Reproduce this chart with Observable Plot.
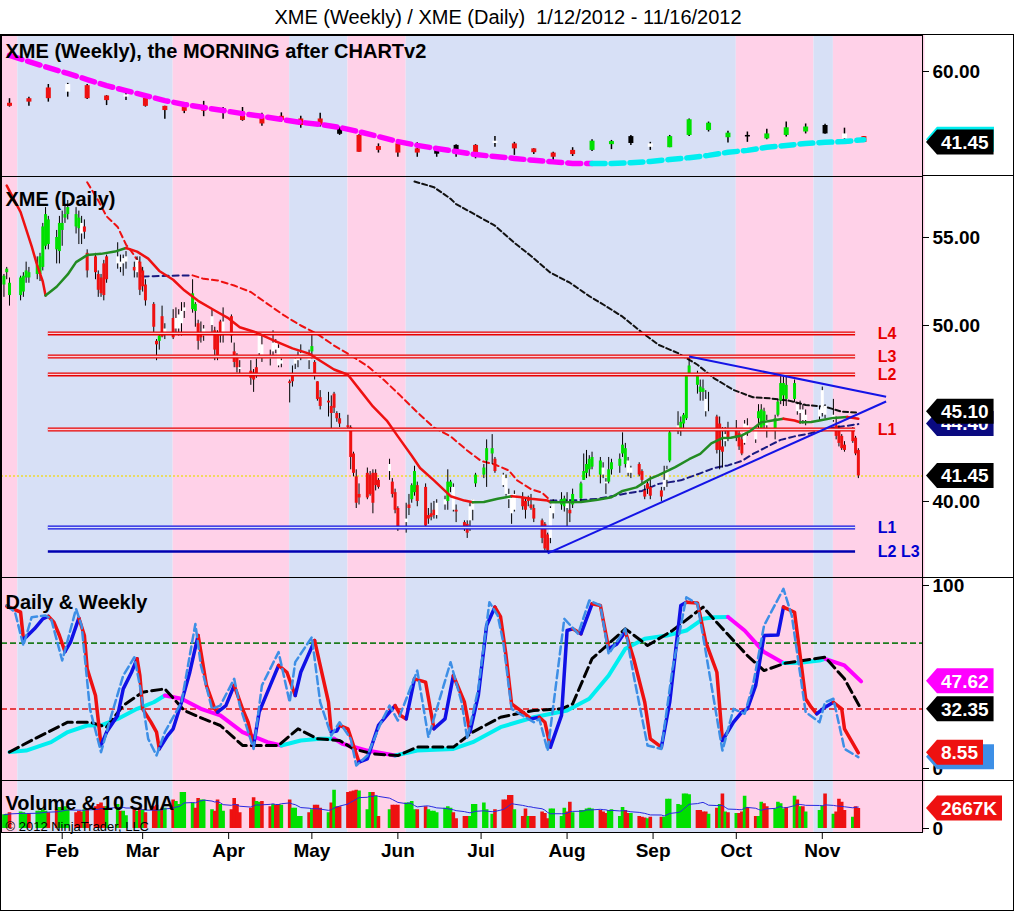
<!DOCTYPE html>
<html>
<head>
<meta charset="utf-8">
<script src="https://cdn.jsdelivr.net/npm/d3@7"></script>
<script src="https://cdn.jsdelivr.net/npm/@observablehq/plot@0.6"></script>
<style>
html,body{margin:0;padding:0;background:#fff;}
#root{position:relative;width:1016px;height:912px;overflow:hidden;font-family:'Liberation Sans',Arial,Helvetica,sans-serif;}
#title{position:absolute;left:0;top:5px;width:1016px;text-align:center;font-size:20px;white-space:pre;line-height:24px;color:#000;}
.ln{position:absolute;background:#000;}
#root svg{position:absolute;left:0;}
</style>
</head>
<body>
<div id="root"><div id="title">XME (Weekly) / XME (Daily)  1/12/2012 - 11/16/2012</div></div>
<script>
// ---------------- DATA ----------------
const holidays = ["01-16","02-20","04-06","05-28","07-04","09-03","10-29","10-30"];
// daily [open, high, low, close]
const jan = [[52.3,52.9,51.6,52.8],[53.0,53.3,52.6,53.2],[51.7,52.7,51.1,52.4],[51.7,52.8,51.4,52.7],[51.9,53.0,51.6,52.8],[52.7,53.6,52.4,53.1],[52.7,53.3,52.4,53.0],[52.9,53.9,52.6,53.4],[52.9,54.1,52.5,53.9],[53.3,55.8,53.1,55.6],[54.5,56.7,54.3,56.3],[54.6,56.2,54.3,56.0],[54.3,55.4,53.5,55.0],[54.2,56.2,53.5,55.8]];
const feb = [[55.4,56.5,54.5,55.8],[56.1,56.8,55.8,56.3],[56.3,57.1,56.0,56.7],[55.6,56.7,55.2,56.3],[55.5,56.5,54.6,56.1],[55.8,56.2,54.6,55.2],[55.6,56.0,54.9,55.3],[54.1,54.3,52.7,53.1],[53.9,54.1,52.6,53.0],[52.9,53.1,51.6,52.0],[52.7,52.9,51.6,51.8],[53.5,53.7,51.4,51.7],[53.9,54.0,52.4,52.6],[53.9,54.7,53.2,53.5],[53.6,54.0,53.0,53.3],[53.8,54.0,52.8,53.5],[53.6,54.2,53.2,53.9],[53.3,53.6,52.7,53.1],[53.0,53.9,52.7,53.7],[53.6,53.9,51.7,52.0]];
const mar = [[53.1,53.3,51.9,52.2],[52.3,52.6,51.1,51.4],[51.2,51.3,49.6,49.9],[49.1,49.2,48.0,48.9],[49.1,49.6,48.6,49.4],[50.5,51.1,49.3,49.35],[49.5,50.1,49.2,49.8],[50.4,50.9,49.2,49.3],[50.4,51.0,49.6,49.8],[50.6,50.9,49.4,49.8],[50.8,51.3,49.4,50.1],[50.8,51.3,50.4,51.0],[50.9,52.6,50.7,51.8],[50.8,51.3,49.9,51.2],[50.1,50.3,48.6,49.1],[49.6,50.2,49.0,49.3],[49.4,50.0,49.1,49.8],[50.0,50.9,49.6,50.5],[49.7,49.9,48.0,48.6],[49.6,49.7,48.0,48.3],[50.2,50.3,49.0,49.4],[49.5,51.0,49.0,50.2]];
const apr = [[50.5,50.6,49.0,49.4],[48.5,49.0,47.6,47.9],[48.2,48.4,47.3,47.6],[47.6,48.0,47.2,47.5],[47.4,48.0,46.6,47.0],[47.3,47.5,46.2,46.9],[47.6,48.1,47.0,47.1],[48.4,49.4,48.3,49.4],[48.9,49.4,47.9,48.3],[48.2,48.6,47.7,48.1],[48.5,49.7,48.2,49.0],[49.0,49.2,48.4,48.6],[48.7,48.9,47.6,47.7],[47.8,48.1,47.6,48.0],[46.8,46.9,45.6,46.7],[47.1,47.7,46.5,46.8],[47.8,48.2,47.5,48.1],[48.0,48.5,47.6,48.2],[48.2,48.9,48.0,48.4],[48.3,48.6,47.5,48.0]];
const may = [[48.5,49.5,48.1,48.8],[47.9,48.0,46.9,47.1],[46.8,46.8,45.7,45.8],[45.9,46.3,45.2,45.4],[45.7,46.2,44.8,45.6],[45.4,46.0,44.0,45.0],[46.1,46.2,45.0,45.3],[45.0,45.1,44.5,44.7],[44.7,45.0,44.2,44.4],[44.3,44.9,44.0,44.2],[44.2,44.3,41.8,42.5],[42.7,42.8,41.4,41.6],[41.4,41.8,39.6,39.9],[40.4,41.0,39.8,40.2],[41.6,41.9,40.1,40.2],[41.5,41.7,40.3,40.4],[41.6,41.8,39.3,39.9],[41.6,41.8,40.6,40.9],[41.2,41.3,40.7,40.8],[41.7,42.4,41.2,42.1],[41.1,41.3,40.2,40.4],[40.5,40.7,39.3,39.5]];
const jun = [[39.6,39.7,38.3,38.4],[38.8,39.9,38.2,39.0],[39.8,40.4,39.2,39.6],[40.1,41.0,39.9,40.9],[40.5,42.0,40.3,41.7],[40.9,41.1,39.7,40.0],[40.8,41.0,38.5,38.6],[39.2,39.6,38.7,39.0],[39.3,39.9,38.9,39.1],[39.5,40.0,39.0,39.2],[39.2,40.1,39.0,39.9],[39.8,40.3,39.5,40.1],[40.0,41.8,39.5,41.1],[40.8,41.2,40.5,41.1],[40.8,41.0,39.4,39.5],[39.5,39.8,38.8,39.4],[38.8,38.9,38.3,38.5],[38.7,38.9,37.9,38.2],[38.9,39.9,38.3,39.7],[39.5,40.1,38.9,40.1],[41.0,41.6,40.8,41.5]];
const jul = [[41.5,42.1,41.3,41.9],[42.3,43.5,40.8,43.0],[42.7,43.8,42.1,43.0],[42.4,42.5,41.6,41.7],[41.5,41.6,40.8,40.9],[41.3,41.5,40.3,40.4],[40.4,40.7,39.6,40.1],[40.2,40.3,38.7,39.3],[39.5,40.6,39.4,40.4],[40.2,40.5,39.5,39.7],[40.0,40.2,39.0,39.5],[40.2,40.3,39.7,40.0],[39.8,40.4,39.5,39.6],[39.6,39.8,38.8,39.0],[38.9,39.0,37.6,37.9],[38.7,38.8,37.2,37.3],[38.1,38.2,37.1,37.2],[37.9,39.7,37.6,39.6],[39.3,40.1,39.0,39.9],[39.8,40.5,39.5,40.1],[39.7,40.3,39.4,40.15]];
const aug = [[40.0,40.5,38.5,39.6],[39.5,40.1,38.8,39.3],[39.8,40.7,39.6,40.4],[40.15,41.1,40.0,41.0],[41.2,42.7,41.2,41.7],[41.6,42.9,41.3,42.1],[41.8,42.6,41.4,42.4],[41.95,42.8,41.8,42.5],[41.5,42.5,41.0,42.3],[41.9,42.2,41.3,41.5],[41.0,41.3,40.4,41.1],[41.1,42.5,41.0,41.8],[41.8,42.4,41.5,42.2],[42.0,42.7,41.6,42.4],[42.7,43.9,42.5,43.2],[42.1,43.3,41.9,43.0],[42.3,42.5,41.4,41.6],[41.6,42.0,41.3,41.9],[42.1,42.2,41.4,41.5],[41.7,41.8,41.0,41.2],[40.6,40.9,40.1,40.25],[41.0,41.1,40.4,40.7],[40.8,41.4,40.1,40.3]];
const sep = [[40.6,40.8,40.0,40.25],[40.8,42.0,40.6,41.2],[41.2,42.0,40.8,41.8],[42.3,44.1,42.2,43.9],[44.3,45.1,43.8,44.0],[44.1,44.8,43.7,44.5],[44.4,45.0,44.0,44.9],[44.7,47.2,44.6,47.1],[47.2,48.3,47.1,47.7],[46.6,47.4,46.1,47.2],[46.2,46.9,45.7,46.5],[46.2,46.9,45.7,46.4],[45.8,46.3,44.8,45.1],[45.6,46.2,45.1,45.6],[44.8,44.9,42.7,42.9],[44.4,44.8,41.8,42.9],[43.1,44.2,41.9,42.8],[43.4,44.2,43.1,43.8],[44.0,44.5,43.4,43.6]];
const oct = [[44.0,44.6,43.4,43.6],[43.85,44.0,42.9,43.1],[43.5,43.7,42.6,42.7],[43.3,44.6,43.2,44.4],[44.3,44.7,43.7,43.9],[44.0,44.2,43.3,43.5],[44.7,45.5,44.1,45.1],[44.1,45.5,44.0,45.2],[44.3,45.3,44.1,45.1],[44.3,44.9,43.6,44.6],[44.1,44.9,43.5,44.7],[44.9,45.8,44.8,45.65],[45.7,47.1,45.5,46.7],[46.0,47.2,45.4,46.7],[45.8,47.1,45.4,46.6],[45.8,46.9,45.6,46.7],[45.5,45.6,44.9,45.1],[45.0,45.7,44.4,45.2],[45.2,45.5,44.4,44.6],[44.6,45.2,44.3,44.9],[44.8,45.4,44.6,45.2]];
const nov = [[45.0,46.5,44.8,46.3],[45.4,45.5,44.7,44.9],[44.6,45.8,44.5,44.9],[44.3,44.8,43.5,43.7],[44.1,44.3,43.1,43.3],[43.7,43.8,42.9,43.0],[43.2,43.4,42.8,42.9],[44.0,44.2,43.3,43.4],[43.6,43.7,42.6,42.7],[42.9,43.0,41.3,41.45]];
// body colour codes per day (g green, r red, w white)
const dailyColors = "gggggggggggggg" + "gggggwrrrrrrrwwwwrwr" + "rrrrgrwrwwwwggrrwwrrrw" + "rrrwrrrwwwwwwwrrwwww" +
  "grrrrrrrrrrrrrrrrrrwrr" + "rwrggrrrrrwwggwrrrwwg" + "gggrwwwwwrrrrrrrrwwgg" + "wrgggggggwwgggggwwrrrrr" +
  "rwwgwgggggggwwrrrwr" + "rrrwwwgggwggggggwwwww" + "wwwrrrrrrr";
// daily volume (thousands)
const volJan = [1830,1900,2100,2200,2100,1900,2000,2300,2300,2500,2300,2100,2500,2800];
const volFeb = [2500,2900,2500,2100,2300,2200,2500,2500,2900,3200,3400,2900,2900,3200,2300,2300,1700,2500,2300,2700];
const volMar = [2500,2100,2900,3100,2500,2700,2700,3800,3600,3200,4800,4800,3400,2700,4000,3800,3800,2500,2300,3800,3200,2300];
const volApr = [2500,4000,3200,2100,2700,4100,3600,3500,3600,2900,3200,3100,3200,3100,3800,2700,2700,1600,1600,2100];
const volMay = [2500,3100,3100,2700,2100,3400,5100,2900,2900,4800,4900,5000,5100,5000,2500,4800,4800,4300,1600,2500,3100,3100];
const volJun = [3100,3400,3400,3600,2500,2500,2900,2500,2300,2300,2100,2700,2900,2700,2100,1300,1600,1600,1600,3200,3200];
const volJul = [3400,2500,1900,2500,3800,3800,4400,4400,2500,1600,2600,1600,1600,1600,2200,2000,1300,2600,2600,1600,2700];
const volAug = [2200,3500,2100,2400,2400,2600,2700,2600,2400,2200,2000,2400,2500,1600,2800,2400,2000,2000,1600,1500,1400,1300,1500];
const volSep = [1500,1500,3900,3900,3200,3100,4600,4600,4500,2400,2400,2200,2200,1900,2700,3200,4600,2200,2100];
const volOct = [2000,2000,2200,4300,2800,1600,1600,3500,3300,2900,2600,3500,3300,2600,2800,4300,3800,2900,2900,2200,2400];
const volNov = [3000,4600,1900,2200,3900,3500,2400,1500,2900,2667];

// weekly [open, high, low, close], one per Friday from Jan 13 to Nov 16
const weeklyOHLC = [[51.7,52.9,50.7,50.9],[52.9,53.3,50.9,52.0],[55.7,56.6,52.0,52.9],[56.6,56.9,53.3,54.6],[56.3,56.6,52.7,52.9],[53.6,53.7,51.1,52.4],[53.9,54.6,52.4,53.3],[53.0,53.3,50.7,50.9],[50.9,50.9,47.5,49.8],[50.7,50.9,49.0,49.6],[50.9,52.2,48.2,49.6],[50.3,50.6,47.5,49.4],[49.4,50.6,47.0,47.2],[47.9,49.1,45.7,46.3],[48.3,49.2,46.8,47.2],[47.6,48.3,45.2,45.9],[47.6,49.1,45.5,45.9],[45.2,45.5,43.3,43.6],[43.3,43.5,38.9,38.9],[40.4,41.1,38.7,39.4],[41.1,41.5,37.6,38.7],[39.8,41.4,37.6,38.7],[39.9,40.2,37.6,38.4],[40.7,40.9,37.6,38.4],[40.7,40.9,37.2,37.6],[41.8,43.0,40.2,41.2],[41.1,41.5,38.1,39.8],[39.8,39.8,38.3,38.8],[38.7,38.9,36.3,37.6],[39.4,40.1,37.8,38.3],[39.4,42.2,39.1,41.8],[40.9,42.0,39.6,41.7],[43.0,43.3,40.7,41.2],[41.1,41.5,39.4,40.2],[40.1,43.3,40.1,43.0],[43.3,47.6,43.0,47.4],[44.6,46.8,44.2,46.5],[42.7,44.4,41.3,43.9],[43.3,44.2,41.5,42.9],[42.4,44.9,42.2,43.7],[43.3,46.8,42.9,45.3],[44.2,46.3,43.7,45.5],[45.9,46.2,43.6,43.7],[43.7,45.2,42.2,42.4],[43.0,43.0,41.45,41.45]];
const weeklyColors = "rrrwrrwrrrrkrrrrrkrrrrkkrwrrrrggkwggggkgggkwr";
const weeklyMA = [64.2,62.6,61.0,59.5,57.9,56.3,55.0,53.7,52.4,51.4,50.6,49.8,49.0,48.3,47.5,46.7,46.2,45.4,44.3,43.0,41.7,40.7,39.9,39.1,38.3,37.8,37.3,36.8,36.4,36.0,35.95,36.0,36.2,36.5,37.0,37.5,38.1,38.9,39.4,40.2,40.7,41.2,41.5,41.7,42.2];

// daily moving averages [MM-DD, value]
const ma1Pts = [["01-12",57.95],["01-17",56.44],["01-21",54.5],["01-23",53.4],["01-25",52.5],["01-26",51.7],["01-30",52.2],["02-03",52.9],["02-06",53.6],["02-10",54.0],["02-15",54.07],["02-20",54.2],["02-24",54.4],["02-28",54.2],["03-03",53.8],["03-07",53.1],["03-12",52.6],["03-16",52.0],["03-21",51.4],["03-27",50.85],["04-01",50.4],["04-05",49.9],["04-11",49.6],["04-18",49.1],["04-24",48.7],["04-30",48.4],["05-04",48.0],["05-09",47.5],["05-14",47.2],["05-19",46.2],["05-23",45.4],["05-28",44.6],["06-01",43.7],["06-06",42.6],["06-09",41.9],["06-14",41.2],["06-20",40.3],["06-25",40.05],["06-28",39.96],["07-02",39.97],["07-07",40.15],["07-12",40.3],["07-15",40.25],["07-19",40.15],["07-25",40.05],["07-26",39.96],["08-06",39.97],["08-12",40.1],["08-17",40.24],["08-21",40.6],["08-26",40.8],["08-31",41.3],["09-03",41.5],["09-09",41.95],["09-14",42.4],["09-18",42.7],["09-22",43.3],["09-26",43.6],["09-29",43.62],["10-03",43.75],["10-06",44.0],["10-10",44.5],["10-14",44.6],["10-18",44.7],["10-22",44.6],["10-24",44.5],["10-28",44.52],["10-31",44.6],["11-05",44.75],["11-10",44.8],["11-14",44.7]];
const ma2Pts = [["02-10",58.14],["02-14",57.1],["02-17",56.2],["02-21",55.6],["02-24",54.6],["02-26",54.2],["02-29",53.5],["03-01",52.78],["03-05",52.8],["03-10",52.82],["03-15",52.84],["03-19",52.85],["03-23",52.65],["03-28",52.56],["04-03",52.27],["04-09",51.9],["04-15",51.23],["04-21",50.57],["04-27",50.0],["05-03",49.52],["05-09",48.86],["05-15",48.3],["05-21",47.7],["05-27",46.9],["06-02",46.0],["06-08",45.07],["06-14",44.2],["06-20",43.7],["06-26",42.9],["07-01",42.3],["07-06",42.1],["07-11",41.76],["07-14",41.2],["07-19",40.7],["07-23",40.5],["07-26",40.05],["07-28",40.06],["08-06",40.08],["08-12",40.15],["08-17",40.3],["08-24",40.5],["08-28",40.6],["09-03",41.0],["09-11",41.2],["09-18",41.6],["09-23",41.9],["09-28",42.05],["10-03",42.3],["10-07",42.7],["10-12",43.1],["10-17",43.5],["10-22",43.7],["10-27",43.85],["10-31",44.0],["11-05",44.2],["11-10",44.3],["11-14",44.4]];
const ma3Pts = [["06-07",58.18],["06-14",57.86],["06-20",57.2],["06-22",56.9],["06-30",56.2],["07-06",55.67],["07-13",54.7],["07-19",53.95],["07-26",53.0],["08-02",52.43],["08-09",51.67],["08-15",51.1],["08-21",50.5],["08-28",49.6],["09-03",48.9],["09-10",48.43],["09-17",47.77],["09-23",47.0],["09-30",46.34],["10-07",45.92],["10-13",45.86],["10-20",45.73],["10-26",45.48],["11-02",45.39],["11-08",45.1],["11-14",45.05]];

// horizontal levels
const levelNames = ["L4","L3","L2","L1","L1","L2 L3"];
const levelValues = [49.55,48.24,47.22,44.09,38.52,37.16];
const levelKinds = ["red","red","red","red","blue","navy"];
// trend lines
const trendFrom = ["09-14","07-25"], trendFromV = [48.24,37.05];
const trendTo = ["11-24","11-24"], trendToV = [45.95,45.68];

// stochastics [MM-DD, value]
const stA = [["01-12",88.7],["01-17",85.4],["01-18",70.9],["01-19",71.8],["01-22",76.3],["01-25",81.8],["01-27",83.2],["01-29",80.0],["01-31",72.7],["02-02",63.9],["02-04",69.0],["02-07",82.2],["02-09",72.7],["02-10",54.5],["02-13",39.9],["02-15",12.6],["02-17",19.9],["02-21",29.0],["02-23",43.5],["02-26",52.6],["02-28",60.0],["02-29",50.8],["03-01",32.6],["03-04",25.3],["03-06",19.9],["03-07",10.7],["03-10",18.0],["03-12",21.7],["03-15",36.2],["03-18",52.6],["03-21",72.7],["03-22",63.6],["03-24",45.4],["03-27",32.6],["03-28",30.8],["03-31",34.4],["04-03",45.4],["04-06",32.6],["04-08",25.3],["04-10",12.6],["04-12",30.8],["04-16",45.4],["04-19",56.3],["04-22",52.6],["04-25",39.9],["04-27",52.6],["05-02",69.9],["05-04",56.3],["05-07",36.2],["05-08",19.9],["05-10",20.5],["05-11",23.5],["05-14",21.7],["05-16",12.6],["05-18",3.5],["05-21",5.3],["05-25",23.5],["05-29",30.8],["05-31",34.4],["06-02",29.0],["06-04",27.1],["06-07",49.0],["06-11",47.2],["06-14",21.7],["06-18",27.1],["06-21",50.8],["06-25",36.2],["06-27",19.9],["06-30",39.9],["07-03",78.1],["07-06",88.2],["07-08",83.0],["07-10",61.7],["07-12",35.3],["07-16",30.8],["07-19",27.1],["07-22",28.0],["07-24",25.3],["07-26",11.7],["07-30",29.0],["08-01",75.4],["08-03",76.3],["08-06",73.6],["08-10",90.0],["08-13",89.1],["08-16",65.4],["08-19",68.1],["08-22",74.9],["08-25",60.0],["08-29",36.2],["08-31",16.2],["09-04",11.7],["09-07",36.2],["09-11",89.1],["09-13",90.9],["09-17",90.5],["09-20",69.0],["09-24",52.6],["09-26",15.3],["09-30",25.3],["10-03",30.8],["10-05",32.6],["10-08",45.4],["10-11",72.7],["10-16",72.9],["10-18",88.2],["10-22",85.4],["10-24",61.7],["10-26",38.1],["10-28",33.5],["10-30",29.9],["11-02",33.5],["11-05",36.2],["11-08",32.6],["11-09",21.7],["11-14",8.55]];
const stB = [["01-12",89.1],["01-15",85.4],["01-18",67.2],["01-21",82.7],["01-26",83.6],["01-28",81.8],["02-01",59.0],["02-06",87.2],["02-08",78.1],["02-11",32.6],["02-15",8.9],["02-18",25.3],["02-23",50.8],["02-27",60.8],["02-29",45.4],["03-03",16.2],["03-06",7.1],["03-09",19.9],["03-15",36.2],["03-20",79.0],["03-22",56.3],["03-26",32.6],["03-29",34.4],["04-03",49.0],["04-05",34.4],["04-10",10.7],["04-13",45.4],["04-19",63.6],["04-23",36.2],["04-25",58.1],["05-01",71.8],["05-04",36.2],["05-08",18.0],["05-11",25.3],["05-15",16.2],["05-17",1.6],["05-21",7.1],["05-26",25.3],["05-29",34.4],["06-01",26.2],["06-08",53.5],["06-12",17.1],["06-20",58.1],["06-24",36.2],["06-26",16.2],["06-30",43.5],["07-04",90.9],["07-07",83.6],["07-09",69.0],["07-12",32.6],["07-18",27.1],["07-20",25.3],["07-22",27.1],["07-25",9.8],["07-31",81.8],["08-05",73.6],["08-09",91.8],["08-13",89.1],["08-16",62.6],["08-22",76.3],["08-25",50.8],["08-30",12.6],["09-04",10.7],["09-08",54.5],["09-13",93.6],["09-17",90.0],["09-20",63.6],["09-26",9.8],["09-30",32.6],["10-04",29.9],["10-07",45.4],["10-11",78.1],["10-18",98.2],["10-21",83.6],["10-26",30.8],["10-31",25.3],["11-02",36.2],["11-05",38.1],["11-09",10.7],["11-14",6.2]];
const stC = [["01-13",9.0],["01-22",16.2],["02-03",25.3],["02-11",25.3],["02-17",22.6],["02-23",34.4],["03-01",41.7],["03-09",43.5],["03-16",31.7],["03-23",27.1],["03-29",23.5],["04-06",12.6],["04-19",12.6],["04-26",21.7],["05-03",16.2],["05-11",15.3],["05-16",10.7],["05-23",8.0],["06-01",7.1],["06-08",11.7],["06-21",11.7],["06-28",19.9],["07-08",28.0],["07-20",31.7],["07-30",32.6],["08-03",35.3],["08-10",60.0],["08-22",76.3],["08-30",67.2],["09-08",75.4],["09-19",88.2],["09-25",78.1],["10-05",61.7],["10-11",53.5],["10-19",57.7],["11-02",60.8],["11-09",49.0],["11-15",32.35]];
const stD = [["01-13",9.0],["01-19",9.8],["01-28",14.4],["02-03",19.9],["02-10",23.5],["02-15",23.6],["02-21",27.1],["02-28",32.6],["03-05",36.2],["03-09",39.9],["03-15",38.1],["03-22",32.6],["03-29",29.0],["04-06",19.9],["04-15",14.4],["04-20",12.6],["04-27",15.3],["05-04",16.2],["05-09",16.3],["05-12",13.5],["05-21",9.8],["05-31",7.1],["06-08",9.8],["06-21",10.7],["06-28",14.4],["07-08",22.6],["07-20",28.0],["08-01",31.7],["08-09",38.1],["08-16",50.8],["08-22",65.4],["08-29",70.9],["09-06",72.7],["09-13",75.4],["09-19",81.8],["09-23",82.7],["09-28",82.8],["10-04",75.4],["10-11",63.6],["10-18",57.7],["10-24",57.8],["10-31",59.0],["11-02",59.9],["11-09",56.3],["11-15",47.62]];
const stochLevels = [68.5, 32.5];

// background week bands
const bandEdges = ["01-09","01-16","03-12","04-23","05-14","06-04","10-01","10-29","11-05","12-08"];
const monthTicks = ["02-01","03-01","04-01","05-01","06-01","07-01","08-01","09-01","10-01","11-01"];

// ---------------- BUILD ----------------
const FONT = "'Liberation Sans', Arial, Helvetica, sans-serif";
const mk = s => (s instanceof Date ? s : new Date(`2012-${s}T00:00Z`));
const fmt = d3.utcFormat("%m-%d");
const X_DOMAIN = [new Date("2012-01-10T02:50Z"), new Date("2012-12-07T03:00Z")];
const PINK = "#ffd1e8", BLUE = "#d7e0f6";
const RED = "#ee1111", GREEN_C = "#00e000";
const BODY = {g: GREEN_C, r: RED, w: "#ffffff", k: "#000000"};
const root = document.getElementById("root");

const tradeDates = d3.utcDays(mk("01-11"), mk("11-15"))
  .filter(d => d.getUTCDay() !== 0 && d.getUTCDay() !== 6 && !holidays.includes(fmt(d)));
const ohlc = [...jan, ...feb, ...mar, ...apr, ...may, ...jun, ...jul, ...aug, ...sep, ...oct, ...nov];
const vols = [...volJan, ...volFeb, ...volMar, ...volApr, ...volMay, ...volJun, ...volJul, ...volAug, ...volSep, ...volOct, ...volNov];
const nDays = Math.min(tradeDates.length, ohlc.length);
const daily = [];
for (let i = 0; i < nDays; i++) {
  daily.push({date: tradeDates[i], o: ohlc[i][0], h: ohlc[i][1], l: ohlc[i][2], c: ohlc[i][3], col: dailyColors[i] || "w", vol: vols[i] ?? 0});
}
daily.forEach((d, i) => d.vcol = (i === 0 || d.c >= daily[i - 1].c) ? GREEN_C : RED);

const fridays = d3.utcFriday.range(mk("01-13"), mk("11-17"));
const weekly = weeklyOHLC.map((w, i) => ({date: fridays[i], o: w[0], h: w[1], l: w[2], c: w[3], col: weeklyColors[i], ma: weeklyMA[i]}));

const bands = bandEdges.slice(0, -1).map((s, i) => ({start: mk(s), end: mk(bandEdges[i + 1]), color: i % 2 === 0 ? PINK : BLUE}));

// split a polyline into runs coloured by direction
function runs(pts, up, down) {
  const out = []; let run = -1, prev = null;
  for (let i = 1; i < pts.length; i++) {
    const a = pts[i - 1], b = pts[i];
    let c = b[1] > a[1] ? up : b[1] < a[1] ? down : (prev || up);
    if (c !== prev) { run++; out.push({date: mk(a[0]), v: a[1], run, color: c}); prev = c; }
    out.push({date: mk(b[0]), v: b[1], run, color: c});
  }
  return out;
}
const simple = pts => pts.map(p => ({date: mk(p[0]), v: p[1]}));

const bandMark = Plot.rect(bands, {x1: "start", x2: "end", fill: "color"});
const frameMark = Plot.frame({stroke: "#000", strokeWidth: 1});

function panel(top, height, yDomain, yRange, ticks, tickFormat, marks) {
  const p = Plot.plot({
    width: 1016, height, marginLeft: 1, marginRight: 94, marginTop: 0, marginBottom: 0,
    style: {fontFamily: FONT, fontSize: "19px", fontWeight: "bold", background: "transparent", overflow: "visible", color: "#000"},
    x: {type: "utc", domain: X_DOMAIN, axis: null},
    y: {domain: yDomain, range: yRange, label: null},
    color: {type: "identity"},
    marks: [bandMark, ...marks,
      Plot.axisY({anchor: "right", ticks, tickFormat, tickSize: 6, tickPadding: 4, fontSize: 19, fontWeight: "bold", fill: "#000", stroke: "#000", label: null}),
      frameMark]
  });
  p.style.top = top + "px";
  root.appendChild(p);
  return p;
}
const titleText = (t, dy, size = 20, weight = "bold") =>
  Plot.text([t], {text: d => d, frameAnchor: "top-left", dx: 4, dy, lineAnchor: "top", textAnchor: "start", fontSize: size, fontWeight: weight, fill: "#000", fontFamily: FONT});

// ---- weekly panel ----
const wRuns = runs(weekly.map(w => [w.date, w.ma]), "#00eef0", "#ff00ff");
const pW = panel(35, 141, [32.58, 69.40], [141, 0], [60], d3.format(".2f"), [
  Plot.ruleX(weekly, {x: "date", y1: "l", y2: "h", stroke: "#000", strokeWidth: 1.5}),
  Plot.ruleX(weekly, {x: "date", y1: "o", y2: "c", stroke: d => BODY[d.col], strokeWidth: 5}),
  Plot.line(wRuns, {x: "date", y: "v", z: "run", stroke: "color", strokeWidth: 5.5, strokeDasharray: "13,6"}),
  titleText("XME (Weekly), the MORNING after CHARTv2", 8)
]);

// ---- daily panel ----
const levels = levelValues.map((v, i) => ({v, name: levelNames[i], kind: levelKinds[i], from: mk("01-27"), to: mk("11-13"), lab: mk("11-21")}));
const LCOL = {red: "#e80000", blue: "#1010e0", navy: "#0000b0"};
const trends = trendFrom.map((f, i) => ({x1: mk(f), y1: trendFromV[i], x2: mk(trendTo[i]), y2: trendToV[i]}));
const pD = panel(176, 401, [35.68, 58.466], [401, 0], [40, 50, 55], d3.format(".2f"), [
  Plot.ruleY([41.45], {stroke: "#f0dc30", strokeWidth: 1.6, strokeDasharray: "2,2"}),
  Plot.line(simple(ma3Pts), {x: "date", y: "v", stroke: "#111", strokeWidth: 2, strokeDasharray: "5,3"}),
  Plot.line(runs(ma2Pts, "#1a1a80", RED), {x: "date", y: "v", z: "run", stroke: "color", strokeWidth: 2, strokeDasharray: "6,4"}),
  Plot.ruleX(daily, {x: "date", y1: "l", y2: "h", stroke: "#000", strokeWidth: 1}),
  Plot.ruleX(daily, {x: "date", y1: "o", y2: "c", stroke: d => BODY[d.col], strokeWidth: 3}),
  Plot.ruleY(levels.filter(d => d.kind !== "navy"), {y: "v", x1: "from", x2: "to", stroke: d => LCOL[d.kind], strokeWidth: 4}),
  Plot.ruleY(levels.filter(d => d.kind !== "navy"), {y: "v", x1: "from", x2: "to", stroke: d => d.kind === "red" ? "#f8d2dc" : "#d8e0f8", strokeWidth: 1.4}),
  Plot.ruleY(levels.filter(d => d.kind === "navy"), {y: "v", x1: "from", x2: "to", stroke: LCOL.navy, strokeWidth: 2.6}),
  Plot.line(runs(ma1Pts, "#228b22", RED), {x: "date", y: "v", z: "run", stroke: "color", strokeWidth: 2.5, strokeLinejoin: "round"}),
  Plot.link(trends, {x1: "x1", y1: "y1", x2: "x2", y2: "y2", stroke: "#1414e6", strokeWidth: 2}),
  Plot.text(levels, {x: "lab", y: "v", text: "name", fill: d => d.kind === "red" ? "#e80000" : "#0000d0", textAnchor: "start", fontSize: 16, fontWeight: "bold", fontFamily: FONT}),
  titleText("XME (Daily)", 15)
]);

// ---- stochastics panel ----
const pS = panel(577, 203, [-6.56, 104.37], [203, 0], [0, 100], d3.format("d"), [
  Plot.ruleY([stochLevels[0]], {stroke: "#1e7b1e", strokeWidth: 1.6, strokeDasharray: "6,3"}),
  Plot.ruleY([stochLevels[1]], {stroke: "#e01010", strokeWidth: 1.6, strokeDasharray: "6,3"}),
  Plot.line(runs(stD, "#00eef0", "#ff00ff"), {x: "date", y: "v", z: "run", stroke: "color", strokeWidth: 4}),
  Plot.line(simple(stC), {x: "date", y: "v", stroke: "#000", strokeWidth: 3, strokeDasharray: "10,5"}),
  Plot.line(runs(stA, "#1010e6", RED), {x: "date", y: "v", z: "run", stroke: "color", strokeWidth: 3.5, strokeLinejoin: "round"}),
  Plot.line(simple(stB), {x: "date", y: "v", stroke: "#3d8fe6", strokeWidth: 2.5, strokeDasharray: "8,4"}),
  titleText("Daily & Weekly", 17)
]);

// ---- volume panel ----
const pV = panel(780, 52, [0, 6400], [48, 0], [0], d3.format("d"), [
  Plot.ruleX(daily, {x: "date", y1: 0, y2: "vol", stroke: "vcol", strokeWidth: 3.6}),
  Plot.lineY(daily, Plot.windowY({k: 10, anchor: "end"}, {x: "date", y: "vol", stroke: "#2828e0", strokeWidth: 1})),
  titleText("Volume & 10 SMA", 15),
  titleText("© 2012 NinjaTrader, LLC", 41, 13, "normal")
]);

// ---- month axis ----
const pX = Plot.plot({
  width: 1016, height: 46, marginLeft: 1, marginRight: 94, marginTop: 0, marginBottom: 45,
  style: {fontFamily: FONT, fontSize: "19px", fontWeight: "bold", background: "transparent", overflow: "visible", color: "#000"},
  x: {type: "utc", domain: X_DOMAIN, label: null},
  marks: [Plot.axisX({ticks: monthTicks.map(mk), tickFormat: d3.utcFormat("%b"), tickSize: 6, tickPadding: 4, fontSize: 19, fontWeight: "bold", fill: "#000", stroke: "#000", label: null})]
});
pX.style.top = "832px";
root.appendChild(pX);

// ---- value tags on the right axis ----
function tag(plot, value, label, fill) {
  const y = plot.scale("y").apply(value);
  const g = d3.select(plot).append("g");
  const path = g.append("path").attr("fill", fill);
  let w = 48;
  if (label) {
    const t = g.append("text").attr("x", 941).attr("y", y).attr("dy", "0.36em").attr("text-anchor", "start")
      .attr("fill", "#fff").attr("font-family", FONT).attr("font-size", 19).attr("font-weight", "bold").text(label);
    w = t.node().getComputedTextLength() || label.length * 10.5;
  }
  path.attr("d", `M926,${y}L937,${y - 12.5}H${946 + w}V${y + 12.5}H937Z`);
}
tag(pW, weeklyMA[weeklyMA.length - 1], null, "#00eef0");
tag(pW, 41.45, "41.45", "#000");
tag(pD, ma2Pts[ma2Pts.length - 1][1], "44.40", "#0a0a80");
tag(pD, ma3Pts[ma3Pts.length - 1][1] + 0.05, "45.10", "#000");
tag(pD, 41.45, "41.45", "#000");
tag(pS, stD[stD.length - 1][1], "47.62", "#ff00ff");
tag(pS, stC[stC.length - 1][1], "32.35", "#000");
tag(pS, stB[stB.length - 1][1], null, "#3d8fe6");
tag(pS, stA[stA.length - 1][1], "8.55", RED);
tag(pV, vols[vols.length - 1], "2667K", RED);

// ---- outer box and separators ----
function line(l, t, w, h) { const d = document.createElement("div"); d.className = "ln"; Object.assign(d.style, {left: l + "px", top: t + "px", width: w + "px", height: h + "px"}); root.appendChild(d); }
line(0, 34, 1014, 1); line(0, 910, 1014, 1); line(0, 34, 1, 877); line(1013, 34, 1, 877);
line(922, 175, 92, 1); line(922, 577, 92, 1); line(922, 780, 92, 1);
</script>
</body>
</html>
